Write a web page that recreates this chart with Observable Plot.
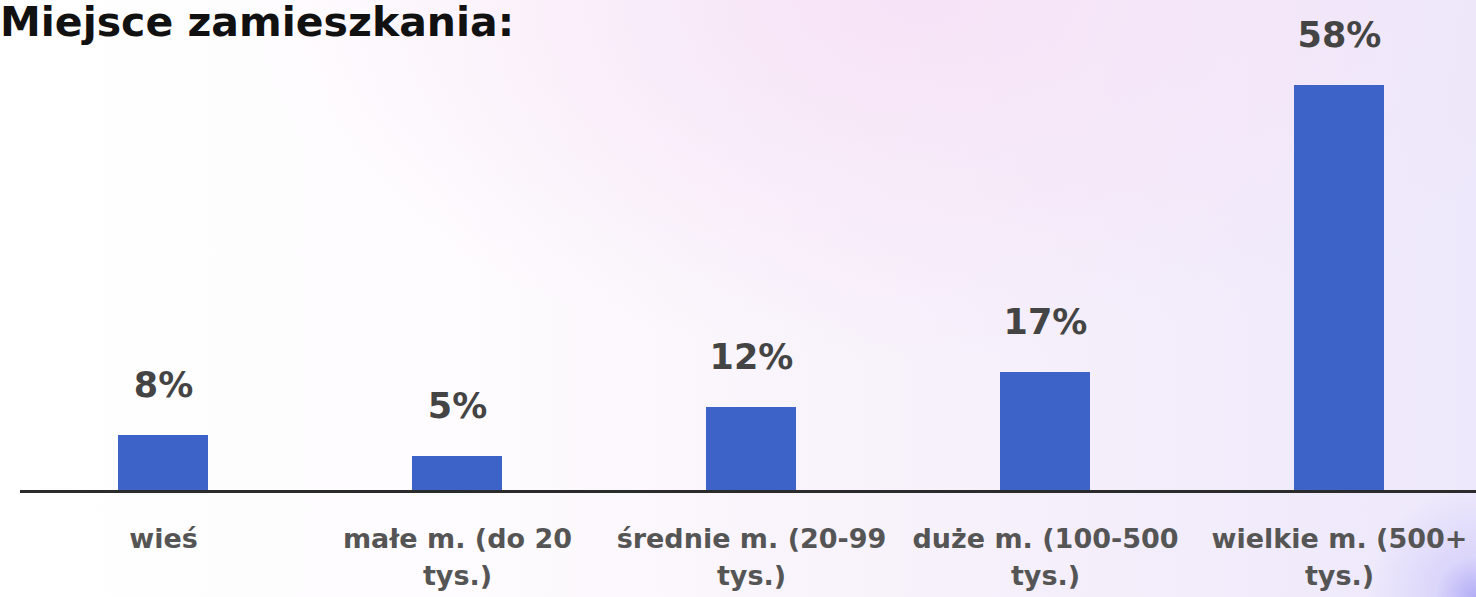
<!DOCTYPE html>
<html>
<head>
<meta charset="utf-8">
<script src="https://cdn.jsdelivr.net/npm/d3@7"></script>
<script src="https://cdn.jsdelivr.net/npm/@observablehq/plot@0.6"></script>
<style>
  html, body { margin: 0; padding: 0; }
  body {
    width: 1476px; height: 597px; overflow: hidden; position: relative;
    font-family: "DejaVu Sans", sans-serif;
    background:
      radial-gradient(circle at 100% 100%, rgba(175,170,245,0.95) 0px, rgba(200,195,250,0.5) 40px, rgba(230,225,252,0) 110px),
      radial-gradient(ellipse 45% 60% at 62% 0%, rgba(246,224,246,0.85) 0%, rgba(250,240,250,0) 100%),
      linear-gradient(90deg, #ffffff 0%, #fefcfe 30%, #f8f2fb 60%, #ede8fb 100%);
  }
  #title {
    position: absolute; left: 0; top: 0;
    font-size: 41px; line-height: 44px; font-weight: bold; color: #111;
    white-space: nowrap;
  }
  #chart { position: absolute; left: 0; top: 0; }
</style>
</head>
<body>
<div id="title">Miejsce zamieszkania:</div>
<div id="chart"></div>
<script>
const categories = [
  "wieś",
  "małe m. (do 20 tys.)",
  "średnie m. (20-99 tys.)",
  "duże m. (100-500 tys.)",
  "wielkie m. (500+ tys.)"
];
const values = [8, 5, 12, 17, 58];

const data = categories.map((c, i) => ({category: c, value: values[i]}));

const chart = Plot.plot({
  width: 1476,
  height: 597,
  marginTop: 1,
  marginBottom: 106,
  marginLeft: 20,
  marginRight: -7,
  style: {background: "transparent", fontFamily: "DejaVu Sans, sans-serif"},
  x: {domain: categories, paddingInner: 0.693, paddingOuter: 0.331, axis: null},
  y: {domain: [0, 70], axis: null},
  marks: [
    Plot.barY(data, {x: "category", y: "value", fill: "#3d63c9"}),
    Plot.ruleY([0], {stroke: "#2b2b2b", strokeWidth: 3}),
    Plot.text(data, {
      x: "category", y: "value", text: d => d.value + "%",
      dy: -50, fontSize: 35, fontWeight: "bold", fill: "#444"
    }),
    Plot.axisX({
      tickSize: 0, tickPadding: 30, fontSize: 27, fontWeight: "bold",
      fill: "#555", lineHeight: 1.38, label: null,
      tickFormat: d => d.replace(" tys.)", "\ntys.)")
    })
  ]
});
document.getElementById("chart").appendChild(chart);
</script>
</body>
</html>
